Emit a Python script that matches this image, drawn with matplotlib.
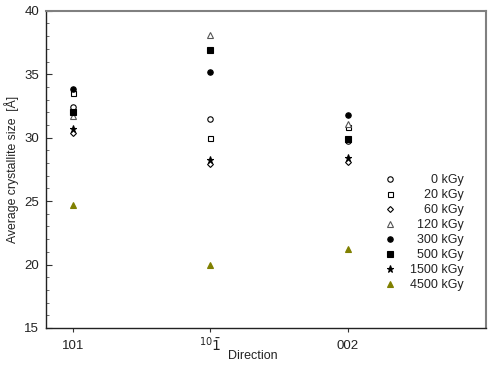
import matplotlib.pyplot as plt
from matplotlib import transforms

plt.rcParams['font.family'] = ['Liberation Sans', 'DejaVu Sans']

# data
directions = ['101', r'$^{10}\bar{1}$', '002']
doses = ['0 kGy', '20 kGy', '60 kGy', '120 kGy', '300 kGy', '500 kGy', '1500 kGy', '4500 kGy']
size_0 = [32.4, 31.5, 29.7]
size_20 = [33.5, 30.0, 30.8]
size_60 = [30.4, 27.9, 28.1]
size_120 = [31.7, 38.1, 31.1]
size_300 = [33.8, 35.2, 31.8]
size_500 = [32.0, 36.9, 29.9]
size_1500 = [30.7, 28.2, 28.4]
size_4500 = [24.7, 20.0, 21.2]

series = [size_0, size_20, size_60, size_120, size_300, size_500, size_1500, size_4500]
# (marker, facecolor, edgecolor, size)
styles = [
    ('o', 'white', 'black', 3.9),
    ('s', 'white', 'black', 3.6),
    ('D', 'white', 'black', 3.0),
    ('^', 'white', '#555555', 4.0),
    ('o', 'black', 'black', 3.9),
    ('s', 'black', 'black', 3.9),
    ('*', 'black', 'black', 5.2),
    ('^', '#808000', '#808000', 4.3),
]
# legend label padding so the text looks right aligned
pads = [6, 4, 4, 2, 2, 2, 0, 0]

x = [1, 2, 3]

fig = plt.figure(figsize=(5, 3.71), dpi=100)
ax = fig.add_axes([0.092, 0.116, 0.88, 0.855])

for vals, (m, fc, ec, ms), lab, p in zip(series, styles, doses, pads):
    ax.plot(x, vals, linestyle='none', marker=m, markerfacecolor=fc,
            markeredgecolor=ec, markersize=ms, markeredgewidth=0.8,
            label=' ' * p + lab)

ax.set_xlim(0.8, 4.01)
ax.set_ylim(15, 40)
ax.set_yticks([15, 20, 25, 30, 35, 40])
ax.set_yticks(range(15, 41), minor=True)
ax.set_xticks(x)
ax.set_xticklabels(['101', '', '002'])
ax.tick_params(axis='y', which='major', direction='in', length=4, labelsize=9.5, pad=5, color='#333333')
ax.tick_params(axis='y', which='minor', direction='in', length=2, color='#555555')
ax.tick_params(axis='x', direction='out', length=3, labelsize=9.5, pad=6, color='#333333')
for lbl in ax.get_yticklabels() + ax.get_xticklabels():
    lbl.set_color('#222222')

# odd lowered middle tick label like the original
trans = transforms.blended_transform_factory(ax.transData, fig.transFigure)
ax.text(2, 0.045, directions[1], transform=trans, ha='center', va='bottom',
        fontsize=10, color='#222222')
fig.text(0.506, 0.04, 'Direction', ha='center', va='center', fontsize=9, color='#222222')

ax.set_ylabel('Average crystallite size  [Å]', fontsize=8.8, color='#222222')
ax.yaxis.set_label_coords(-0.062, 0.5)

for s in ['left', 'bottom']:
    ax.spines[s].set_color('#222222')
    ax.spines[s].set_linewidth(1.0)
for s in ['top', 'right']:
    ax.spines[s].set_color('#808080')
    ax.spines[s].set_linewidth(1.5)

leg = ax.legend(loc='center', bbox_to_anchor=(0.847, 0.372), bbox_transform=fig.transFigure,
                frameon=False, fontsize=9, handlelength=1.0, handletextpad=1.1,
                labelspacing=0.24, borderpad=0.2)
for t in leg.get_texts():
    t.set_color('#222222')

plt.savefig('out.png', dpi=100)
plt.close()
